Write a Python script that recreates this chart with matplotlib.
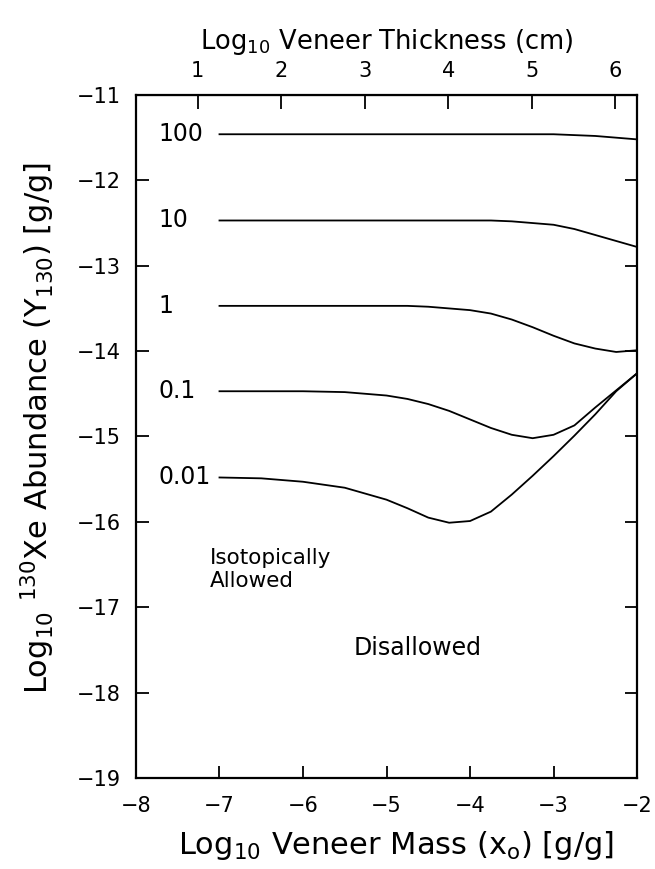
import matplotlib
matplotlib.use('Agg')
import matplotlib.pyplot as plt

plt.rcParams['font.family'] = ['DejaVu Sans']
plt.rcParams['mathtext.fontset'] = 'dejavusans'

# log10 veneer mass grid and abundance curves for each label
x_mass = [-7, -6.5, -6, -5.5, -5, -4.75, -4.5, -4.25, -4, -3.75, -3.5, -3.25, -3, -2.75, -2.5, -2.25, -2]
y_100 = [-11.46, -11.46, -11.46, -11.46, -11.46, -11.46, -11.46, -11.46, -11.46, -11.46, -11.46, -11.46, -11.46, -11.47, -11.48, -11.50, -11.52]
y_10 = [-12.47, -12.47, -12.47, -12.47, -12.47, -12.47, -12.47, -12.47, -12.47, -12.47, -12.48, -12.50, -12.52, -12.57, -12.64, -12.71, -12.78]
y_1 = [-13.47, -13.47, -13.47, -13.47, -13.47, -13.47, -13.48, -13.50, -13.52, -13.56, -13.63, -13.72, -13.82, -13.91, -13.97, -14.01, -13.99]
y_01 = [-14.47, -14.47, -14.47, -14.48, -14.52, -14.56, -14.62, -14.70, -14.80, -14.90, -14.98, -15.02, -14.98, -14.87, -14.66, -14.46, -14.26]
y_001 = [-15.48, -15.49, -15.53, -15.60, -15.74, -15.84, -15.95, -16.01, -15.99, -15.88, -15.68, -15.46, -15.23, -14.99, -14.74, -14.47, -14.26]
curve_labels = ['100', '10', '1', '0.1', '0.01']
thick_ticks = [1, 2, 3, 4, 5, 6]
offset = 8.26  # thickness axis shift vs mass axis

fig = plt.figure(figsize=(6.55, 8.69), dpi=100)
ax = fig.add_axes([0.2076, 0.1047, 0.765, 0.786])

for y, lab in zip([y_100, y_10, y_1, y_01, y_001], curve_labels):
    ax.plot(x_mass, y, color='black', lw=1.3)
    ax.text(-7.73, y[0], lab, fontsize=17, va='center', ha='left')

ax.text(-7.11, -16.56, 'Isotopically\nAllowed', fontsize=15.5, va='center', ha='left', linespacing=1.2)
ax.text(-4.63, -17.48, 'Disallowed', fontsize=17, va='center', ha='center')

ax.set_xlim(-8, -2)
ax.set_ylim(-19, -11)
ax.set_xticks(range(-8, -1))
ax.set_yticks(range(-19, -10))
ax.set_xticklabels(['\u2212%d' % abs(v) for v in range(-8, -1)])
ax.set_yticklabels(['\u2212%d' % abs(v) for v in range(-19, -10)])
ax.tick_params(direction='in', length=9, width=1.3, labelsize=15, right=True)
ax.tick_params(axis='x', pad=13)
ax.tick_params(axis='y', pad=11)
for s in ax.spines.values():
    s.set_linewidth(1.6)

ax.set_xlabel(r'Log$_{10}$ Veneer Mass (x$_{\rm o}$) [g/g]', fontsize=22)
ax.xaxis.set_label_coords(0.52, -0.074)
ax.set_ylabel(r'Log$_{10}$ $^{130}$Xe Abundance (Y$_{130}$) [g/g]', fontsize=22)
ax.yaxis.set_label_coords(-0.158, 0.512)

top = ax.secondary_xaxis('top', functions=(lambda x: x + offset, lambda t: t - offset))
top.set_xticks(thick_ticks)
top.tick_params(direction='in', length=10, width=1.3, labelsize=15, pad=10)
top.set_xlabel(r'Log$_{10}$ Veneer Thickness (cm)', fontsize=18.5, labelpad=9)

fig.savefig('out.png', dpi=100)
